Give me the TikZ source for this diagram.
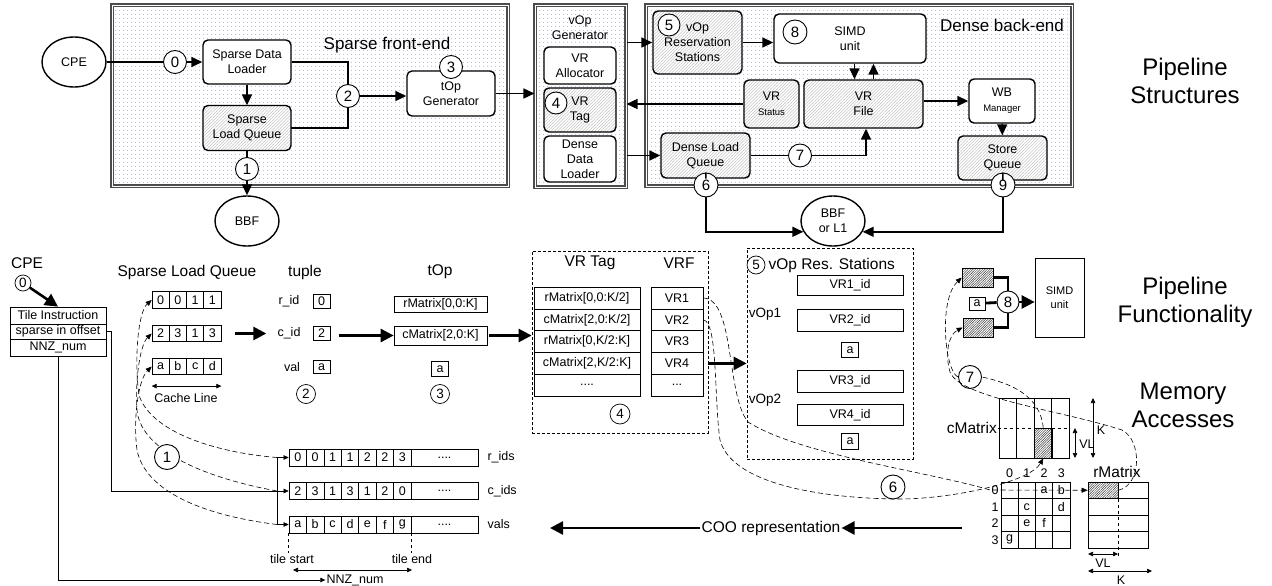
\documentclass[tikz,border=0pt]{standalone}
\usepackage{fontspec}
\setmainfont{Liberation Sans}
\usetikzlibrary{shapes.geometric, arrows, arrows.meta, patterns.meta, positioning}

\tikzstyle{region} = [
    rectangle,
    draw=black!70,
    double=white,
    double distance=0.9pt,
    line width=1.1pt,
    pattern={Dots[distance=4pt, radius=0.55pt]},
    pattern color=blue!35!gray!65
]
\tikzstyle{unit} = [
    rectangle,
    rounded corners=5pt,
    draw=black,
    line width=1.4pt,
    fill=white,
    align=center,
    inner sep=1pt,
    font=\fontsize{12.5}{15}\selectfont
]
\tikzstyle{hatchunit} = [
    rectangle,
    rounded corners=5pt,
    draw=black,
    line width=1.4pt,
    preaction={fill=white},
    pattern={Lines[angle=45, distance=2.2pt, line width=0.35pt]},
    pattern color=gray!60,
    align=center,
    inner sep=1pt,
    font=\fontsize{12.5}{15}\selectfont
]
\tikzstyle{memory} = [
    ellipse,
    draw=black,
    line width=1.4pt,
    fill=white,
    minimum width=64,
    minimum height=50,
    align=center,
    font=\fontsize{12.5}{15}\selectfont
]
\tikzstyle{stagenum} = [
    circle,
    draw=black,
    line width=0.9pt,
    fill=white,
    inner sep=0pt,
    minimum size=23,
    font=\fontsize{15}{15}\selectfont
]
\tikzstyle{stagesmall} = [stagenum, minimum size=19, line width=0.7pt, font=\fontsize{13.5}{13.5}\selectfont]
\tikzstyle{cell} = [
    rectangle,
    draw=black,
    line width=0.7pt,
    inner sep=0pt,
    font=\fontsize{12.5}{12.5}\selectfont
]
\tikzstyle{darkhatch} = [
    rectangle,
    draw=black,
    line width=0.7pt,
    preaction={fill=white},
    pattern={Lines[angle=45, distance=1.7pt, line width=0.5pt]},
    pattern color=black!75
]
\tikzstyle{group} = [rectangle, draw=black, line width=0.8pt, dash pattern=on 3pt off 2pt]
\tikzstyle{heading} = [font=\fontsize{15.5}{17}\selectfont, inner sep=1pt]
\tikzstyle{smalltext} = [font=\fontsize{12.5}{14}\selectfont, inner sep=1pt]
\tikzstyle{bigtext} = [font=\fontsize{17}{19}\selectfont, inner sep=1pt]
\tikzstyle{hugetext} = [font=\fontsize{24}{28}\selectfont, align=center]
\tikzstyle{link} = [line width=1.6pt]
\tikzstyle{arrow} = [line width=1.6pt,->,>={Triangle[length=11pt, width=10pt]}]
\tikzstyle{fatlink} = [line width=2.8pt]
\tikzstyle{fatarrow} = [line width=2.6pt,->,>={Triangle[length=13pt, width=13pt]}]
\tikzstyle{thinline} = [line width=0.6pt]
\tikzstyle{thinarrow} = [line width=0.6pt,->,>={Triangle[length=5pt, width=4.5pt]}]
\tikzstyle{dimarrow} = [line width=0.6pt,<->,>={Triangle[length=5pt, width=4.5pt]}]
\tikzstyle{trace} = [line width=0.6pt, dash pattern=on 5pt off 3pt, ->, >={Triangle[length=6pt, width=5pt]}]

\begin{document}
\begin{tikzpicture}[x=1pt, y=-1pt]
\useasboundingbox (0,0) rectangle (1272,586);

% ---- pipeline structures ----
\node (sfe) [region, minimum width=396, minimum height=181] at (310,95.5) {};
\node (vopgen) [region, minimum width=91, minimum height=182] at (580.5,96) {};
\node (dbe) [region, minimum width=426, minimum height=181] at (859,95.5) {};
\node (sfetitle) [bigtext] at (387,45) {Sparse front-end};
\node (dbetitle) [bigtext] at (1002,25) {Dense back-end};

\node (cpe) [memory] at (74,62) {CPE};
\node (sdl) [unit, minimum width=88, minimum height=44] at (247,62) {Sparse Data\\Loader};
\node (slq) [hatchunit, minimum width=88, minimum height=45] at (247,128) {Sparse\\Load Queue};
\node (n0) [stagenum] at (175,62) {0};
\node (n1) [stagenum] at (247,169) {1};
\node (bbf) [memory] at (247,221) {BBF};
\node (n2) [stagenum] at (348,96) {2};
\node (topgen) [unit, minimum width=88, minimum height=45] at (451,93.5) {tOp\\Generator};
\node (n3) [stagenum] at (451,67) {3};

\node (vopgentitle) [align=center, font=\fontsize{12.5}{15}\selectfont] at (580,28) {vOp\\Generator};
\node (vralloc) [unit, minimum width=72, minimum height=37] at (580,65.5) {VR\\Allocator};
\node (vrtag) [hatchunit, minimum width=72, minimum height=44] at (580,110) {VR\\Tag};
\node (n4) [stagenum, minimum size=22] at (556,103) {4};
\node (ddl) [unit, minimum width=72, minimum height=46] at (580,159) {Dense\\Data\\Loader};

\node (vrs) [hatchunit, minimum width=89, minimum height=63] at (697.5,42.5) {vOp\\Reservation\\Stations};
\node (n5) [stagenum, minimum size=22] at (669,25) {5};
\node (simd) [unit, minimum width=152, minimum height=49] at (850,38.5) {SIMD\\unit};
\node (n8) [stagenum, minimum size=24] at (795,32) {8};
\node (vrstat) [hatchunit, minimum width=55, minimum height=48] at (771.5,104) {VR\\{\fontsize{9.5}{11}\selectfont Status}};
\node (vrfile) [hatchunit, minimum width=119, minimum height=48] at (863.5,104) {VR\\File};
\node (wbm) [unit, minimum width=66, minimum height=44] at (1002,101) {WB\\{\fontsize{9.5}{11}\selectfont Manager}};
\node (stq) [hatchunit, minimum width=89, minimum height=44] at (1002.5,158) {Store\\Queue};
\node (n9) [stagenum, minimum size=24] at (1003,185) {9};
\node (dlq) [hatchunit, minimum width=89, minimum height=45] at (705.5,155.5) {Dense Load\\Queue};
\node (n6) [stagenum, minimum size=24] at (706,185) {6};
\node (n7) [stagenum] at (800,155.5) {7};
\node (bbfl1) [memory] at (833,221) {BBF\\or L1};

\draw [link] (cpe) -- (n0);
\draw [arrow] (n0) -- (sdl);
\draw [arrow] (sdl) -- (slq);
\draw [link] (slq) -- (n1);
\draw [arrow] (n1) -- (bbf);
\draw [link] (sdl.east) -| (n2);
\draw [link] (slq.east) -| (n2);
\draw [arrow] (n2) -- (n2 -| topgen.west);
\draw [arrow] (topgen) -- (topgen -| vopgen.west);
\draw [arrow] (vrs -| vopgen.east) -- (vrs);
\draw [arrow] (vrs) -- (vrs -| simd.west);
\draw [arrow] ([xshift=-9]vrfile.north |- simd.south) -- ([xshift=-9]vrfile.north);
\draw [arrow] ([xshift=10]vrfile.north) -- ([xshift=10]vrfile.north |- simd.south);
\draw [arrow] (vrstat) -- (vrstat -| vopgen.east);
\draw [arrow] (vrfile.east |- wbm) -- (wbm.west);
\draw [arrow] (wbm) -- (stq);
\draw [arrow] (dlq -| vopgen.east) -- (dlq);
\draw [link] (dlq) -- (n7);
\draw [arrow] (n7) -| ([xshift=2.5]vrfile.south);
\draw [link] (dlq) -- (n6);
\draw [arrow] (n6) |- (bbfl1.200);
\draw [link] (stq) -- (n9);
\draw [arrow] (n9) |- (bbfl1.340);

\node (lblstruct) [hugetext] at (1185,81) {Pipeline\\Structures};
\node (lblfunc) [hugetext] at (1185,302) {Pipeline\\Functionality};
\node (lblmem) [hugetext] at (1183,405) {Memory\\Accesses};

% ---- tile instruction ----
\node (cpelbl) [heading] at (27,263) {CPE};
\node (m0) [stagesmall, minimum size=16] at (23,283) {0};
\node (tinst) [cell, minimum width=96, minimum height=17] at (58,315.5) {Tile Instruction};
\node (soff) [cell, minimum width=96, minimum height=15] at (58,331.5) {sparse in offset};
\node (nnz) [cell, minimum width=96, minimum height=17] at (58,347.5) {NNZ\_num};
\draw [fatarrow] (m0) -- (tinst.north);

% ---- sparse load queue ----
\node (slqlbl) [heading] at (187,272) {Sparse Load Queue};
\foreach \v [count=\i] in {0,0,1,1}
    \node (qa\i) [cell, minimum width=17.25, minimum height=16.5] at (143.4+17.25*\i,300) {\v};
\foreach \v [count=\i] in {2,3,1,3}
    \node (qb\i) [cell, minimum width=17.25, minimum height=16.5] at (143.4+17.25*\i,333.5) {\v};
\foreach \v [count=\i] in {a,b,c,d}
    \node (qc\i) [cell, minimum width=17.25, minimum height=16.5] at (143.4+17.25*\i,366.5) {\v};
\draw [dimarrow] ([yshift=-11]qc1.south west) -- ([yshift=-11]qc4.south east);
\node (cachelbl) [smalltext] at (186,398) {Cache Line};

% ---- tuple ----
\node (tuplelbl) [heading] at (305,272) {tuple};
\node (ridl) [smalltext] at (289,301) {r\_id};
\node (tr) [cell, minimum width=17, minimum height=14] at (321.5,301.5) {0};
\node (cidl) [smalltext] at (289,333.5) {c\_id};
\node (tc) [cell, minimum width=17, minimum height=14] at (321.5,333.5) {2};
\node (vall) [smalltext] at (292,367) {val};
\node (tv) [cell, minimum width=17, minimum height=13] at (321.5,367) {a};
\node (m2) [stagesmall] at (306,394) {2};
\draw [fatarrow, shorten <=14pt, shorten >=10pt] (qb4.east) -- (cidl.west);

% ---- tOp ----
\node (toplbl) [heading] at (440,272) {tOp};
\node (trm) [cell, minimum width=93, minimum height=16] at (440.5,304) {rMatrix[0,0:K]};
\node (tcm) [cell, minimum width=93, minimum height=19] at (440.5,335.5) {cMatrix[2,0:K]};
\node (ta) [cell, minimum width=17, minimum height=15] at (440,369) {a};
\node (m3) [stagesmall] at (440,394) {3};
\draw [fatarrow, shorten <=9pt] (tc.east |- tcm) -- (tcm.west);

% ---- VR tag / VRF ----
\node (vrtaggrp) [group, minimum width=176, minimum height=182] at (620,342) {};
\node (vrtaglbl) [heading] at (590,263) {VR Tag};
\node (vrflbl) [heading] at (679,263) {VRF};
\node (vt1) [cell, minimum width=106, minimum height=21.8] at (587,298) {rMatrix[0,0:K/2]};
\node (vt2) [cell, minimum width=106, minimum height=21.8] at (587,319.8) {cMatrix[2,0:K/2]};
\node (vt3) [cell, minimum width=106, minimum height=21.8] at (587,341.6) {rMatrix[0,K/2:K]};
\node (vt4) [cell, minimum width=106, minimum height=21.8] at (587,363.4) {cMatrix[2,K/2:K]};
\node (vt5) [cell, minimum width=106, minimum height=21.8] at (587,385.2) {....};
\node (vf1) [cell, minimum width=52, minimum height=21.8] at (677,298) {VR1};
\node (vf2) [cell, minimum width=52, minimum height=21.8] at (677,319.8) {VR2};
\node (vf3) [cell, minimum width=52, minimum height=21.8] at (677,341.6) {VR3};
\node (vf4) [cell, minimum width=52, minimum height=21.8] at (677,363.4) {VR4};
\node (vf5) [cell, minimum width=52, minimum height=21.8] at (677,385.2) {...};
\node (m4) [stagesmall, minimum size=20] at (620,414) {4};
\draw [fatarrow, shorten <=2pt] (tcm.east) -- (tcm -| vrtaggrp.west);

% ---- vOp reservation stations ----
\node (vopresgrp) [group, minimum width=166, minimum height=211] at (830,353.5) {};
\node (m5) [stagesmall, minimum size=18] at (756,265) {5};
\node (vopreslbl) [heading, right=2pt of m5] {vOp Res. Stations};
\node (id1) [cell, minimum width=106, minimum height=20] at (850,285) {VR1\_id};
\node (id2) [cell, minimum width=106, minimum height=22] at (850,320.5) {VR2\_id};
\node (sa1) [cell, minimum width=17, minimum height=15] at (850,350) {a};
\node (id3) [cell, minimum width=106, minimum height=22] at (850,381) {VR3\_id};
\node (id4) [cell, minimum width=106, minimum height=21] at (850,415) {VR4\_id};
\node (sa2) [cell, minimum width=17, minimum height=16] at (850,441.5) {a};
\node (vop1lbl) [font=\fontsize{13.5}{15}\selectfont] at (765,314) {vOp1};
\node (vop2lbl) [font=\fontsize{13.5}{15}\selectfont] at (765,400) {vOp2};
\draw [fatarrow] (vrtaggrp.east |- vf4) -- (vopresgrp.west |- vf4);

% ---- SIMD operation ----
\node (simdfu) [cell, minimum width=49, minimum height=79, align=center, font=\fontsize{11}{14}\selectfont] at (1059.5,297.5) {SIMD\\unit};
\node (opu) [darkhatch, minimum width=31, minimum height=19] at (977.5,277.5) {};
\node (opl) [darkhatch, minimum width=30, minimum height=19] at (978,327.5) {};
\node (opa) [cell, minimum width=16, minimum height=13] at (977,303.5) {a};
\node (m8) [stagenum, minimum size=22] at (1008,302) {8};
\draw [fatlink] (opu.east) -| (m8.north);
\draw [fatlink] (opl.east) -| (m8.south);
\draw [fatlink] (opa) -- (m8);
\draw [fatarrow] (m8) -- (m8 -| simdfu.west);

% ---- cMatrix ----
\node (cmcell) [darkhatch, minimum width=17.5, minimum height=30] at (1043.25,443) {};
\draw [thinline] (999,398) rectangle (1069,458);
\foreach \k in {1,2,3}
    \draw [thinline] (999+17.5*\k,398) -- (999+17.5*\k,458);
\node (cmlbl) [heading, anchor=east] at (998,428) {cMatrix};
\draw [thinline, dashed] (cmlbl.east) -- (1069,428);
\draw [dimarrow] (1093,398) -- (1093,458);
\node (cmk) [smalltext] at (1101,430) {K};
\draw [dimarrow] (1075,428) -- (1075,458);
\node (cmvl) [smalltext] at (1087,444) {VL};

% ---- sparse matrix ----
\draw [thinline] (1001,482) rectangle (1070,548);
\foreach \k in {1,2,3} {
    \draw [thinline] (1001+17.25*\k,482) -- (1001+17.25*\k,548);
    \draw [thinline] (1001,482+16.5*\k) -- (1070,482+16.5*\k);
}
\foreach \c in {0,...,3}
    \node (colhd\c) [smalltext] at (1009.6+17.25*\c,473) {\c};
\foreach \r in {0,...,3}
    \node (rowhd\r) [smalltext] at (995,490.25+16.5*\r) {\r};
\foreach \r/\c/\v in {0/2/a,0/3/b,1/1/c,1/3/d,2/1/e,2/2/f,3/0/g}
    \node (sm\v) [smalltext] at (1009.6+17.25*\c,490.25+16.5*\r) {\v};

% ---- rMatrix ----
\draw [thinline] (1088,482) rectangle (1148,548);
\foreach \k in {1,2,3}
    \draw [thinline] (1088,482+16.5*\k) -- (1148,482+16.5*\k);
\draw [thinline] (1118,482) -- (1118,498.5);
\draw [thinline, dashed] (1118,498.5) -- (1118,556);
\node (rmcell) [darkhatch, minimum width=30, minimum height=16.5] at (1103,490.25) {};
\node (rmlbl) [heading] at (1117,472) {rMatrix};
\draw [dimarrow] (1088,554) -- (1118,554);
\node (rmvl) [smalltext] at (1103,563) {VL};
\draw [dimarrow] (1088,571) -- (1152,571);
\node (rmk) [smalltext] at (1121,580) {K};

% ---- COO arrays ----
\foreach \v [count=\i] in {0,0,1,1,2,2,3}
    \node (rid\i) [cell, minimum width=17.43, minimum height=17] at (280.3+17.43*\i,457.5) {\v};
\node (rid8) [cell, minimum width=67, minimum height=17] at (444.5,457.5) {....};
\node (ridlbl) [smalltext, right=8pt of rid8] {r\_ids};
\foreach \v [count=\i] in {2,3,1,3,1,2,0}
    \node (cid\i) [cell, minimum width=17.43, minimum height=17] at (280.3+17.43*\i,491) {\v};
\node (cid8) [cell, minimum width=67, minimum height=17] at (444.5,491) {....};
\node (cidlbl) [smalltext, right=8pt of cid8] {c\_ids};
\foreach \v [count=\i] in {a,b,c,d,e,f,g}
    \node (val\i) [cell, minimum width=17.43, minimum height=17] at (280.3+17.43*\i,524.5) {\v};
\node (val8) [cell, minimum width=67, minimum height=17] at (444.5,524.5) {....};
\node (vallbl) [smalltext, right=8pt of val8] {vals};

\coordinate (brtop) at (277,457.5);
\coordinate (brmid) at (277,491);
\coordinate (brbot) at (277,524.5);
\draw [thinline] (brtop) -- (brbot);
\draw [thinarrow] (brtop) -- (rid1.west);
\draw [thinarrow] (brmid) -- (cid1.west);
\draw [thinarrow] (brbot) -- (val1.west);
\draw [thinline] (soff.east) -- ++(5,0) |- (brmid);

\node (tstart) [smalltext] at (292,559) {tile start};
\node (tend) [smalltext] at (412,559) {tile end};
\draw [thinline, dashed] (val1.south west) -- (val1.south west |- tstart.north);
\draw [thinline, dashed] (val7.south east) -- (val7.south east |- tend.north);
\coordinate (nnzl) at (293,570);
\coordinate (nnzr) at (412,570);
\draw [dimarrow] (nnzl) -- (nnzr);
\node (nnzlbl) [smalltext] at (355,580) {NNZ\_num};
\draw [thinarrow] (nnz.south) |- (nnzlbl.west);

% ---- COO representation ----
\node (coolbl) [heading] at (771,528) {COO representation};
\coordinate (coosrc) at (962,528);
\coordinate (coodst) at (550,528);
\draw [fatarrow] (coosrc) -- (coolbl.east);
\draw [fatarrow] (coolbl.west) -- (coodst);

% ---- memory traces ----
\draw [trace] (brtop) .. controls (210,452) and (150,430) .. (139,395) .. controls (134,360) and (138,312) .. (qa1.west);
\draw [trace] (brmid) .. controls (190,475) and (140,445) .. (137,410) .. controls (135,380) and (140,345) .. (qb1.west);
\draw [trace] (brbot) .. controls (200,515) and (145,490) .. (137,450) .. controls (133,420) and (138,380) .. (qc1.west);
\node (m1) [stagenum, minimum size=25] at (167,457) {1};

\draw [trace] (vf1.east) .. controls (735,299) and (726,395) .. (748,422) .. controls (800,455) and (930,472) .. (990,490) -- (rmcell.west);
\draw [trace] (vf2.east) .. controls (718,322) and (714,400) .. (720,440) .. controls (730,478) and (800,497) .. (893,499) .. controls (950,500) and (1030,482) .. (cmcell.south);
\node (m6) [stagenum, minimum size=24] at (893,487) {6};

\node (m7) [stagenum] at (970,377) {7};
\draw [trace, -] (cmcell.north) .. controls (1040,395) and (1010,383) .. (m7.east);
\draw [trace] (m7.west) .. controls (945,372) and (938,300) .. (opu.west);
\draw [trace] (rmcell.east) .. controls (1142,485) and (1142,440) .. (1122,430) .. controls (1060,410) and (960,398) .. (950,372) .. controls (945,355) and (948,335) .. (opl.west);

\end{tikzpicture}
\end{document}
